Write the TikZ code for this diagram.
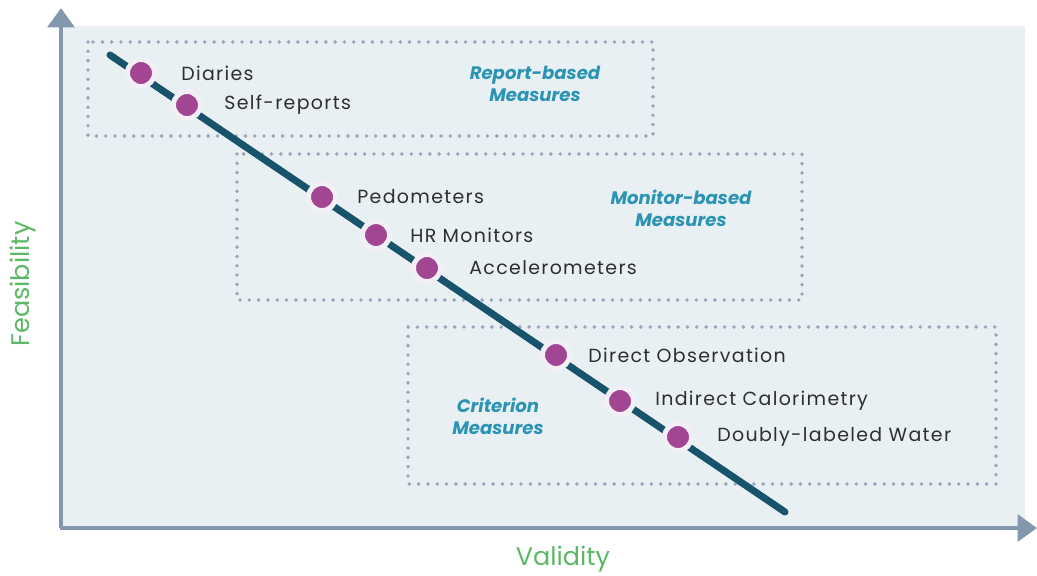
\documentclass[tikz,border=0pt]{standalone}
\usepackage{fontspec}
\setmainfont{Poppins}
\newfontfamily\wideface[LetterSpace=7]{Poppins}
\usetikzlibrary{arrows.meta}

\definecolor{panel}{HTML}{E9F0F4}
\definecolor{axisgray}{HTML}{8597AD}
\definecolor{boxdots}{HTML}{97A6BA}
\definecolor{trend}{HTML}{17546B}
\definecolor{plum}{HTML}{A24592}
\definecolor{halo}{HTML}{F2EFF7}
\definecolor{grouptxt}{HTML}{2B93B3}
\definecolor{axistxt}{HTML}{5DB866}
\definecolor{ink}{HTML}{2E2E2E}

\begin{document}
\begin{tikzpicture}[x=0.02cm, y=-0.02cm,
	groupbox/.style={draw=boxdots, line width=2.2pt, line cap=round, dash pattern=on 0pt off 5.3pt},
	measure/.style={anchor=west, inner sep=0pt, text=ink, font=\wideface\fontsize{10.8}{12}\selectfont},
	grouplabel/.style={align=center, text=grouptxt, font=\fontsize{10.3}{12.5}\selectfont\bfseries\itshape},
	dot/.style={circle, inner sep=0pt, minimum size=0.54cm, fill=plum, draw=halo, line width=2.8pt},
	axislabel/.style={text=axistxt, font=\fontsize{14.5}{17}\selectfont}]
	\useasboundingbox (0,0) rectangle (1037,575);

	% plot area
	\coordinate (O) at (61,528);
	\fill[panel] (62,26) rectangle (1025,528);

	% groups
	\draw[groupbox] (88,42) rectangle (653,136);
	\draw[groupbox] (237,154) rectangle (802,300);
	\draw[groupbox] (408,327) rectangle (996,484);

	\node[grouplabel] (report) at (535,84) {Report-based\\Measures};
	\node[grouplabel] (monitor) at (681,208) {Monitor-based\\Measures};
	\node[grouplabel] (criterion) at (498,416) {Criterion\\Measures};

	% trend line
	\coordinate (high) at (110,55);
	\coordinate (low) at (785,512);
	\draw[trend, line width=4pt, line cap=round] (high) -- (low);

	\foreach \name / \x / \y / \lx / \txt in {diaries/141/73/181/Diaries,
		selfrep/187/105/224/Self-reports,
		pedo/322/197/357/Pedometers,
		hrmon/376/235/410/HR Monitors,
		accel/427/268/469/Accelerometers,
		directobs/556/355/588/Direct Observation,
		calorim/620/401/655/Indirect Calorimetry,
		dlw/678/437/717/Doubly-labeled Water}{
		\node[dot] (\name) at (\x,\y) {};
		\node[measure] (\name-txt) at (\lx,\y) {\txt};}

	% axes
	\draw[axisgray, line width=2.8pt, -{Triangle[width=15pt,length=11pt]}] (O) -- (61,8);
	\draw[axisgray, line width=2.8pt, -{Triangle[width=15pt,length=11pt]}] (59.6,528) -- (1037,528);

	\node[axislabel, rotate=90] (feas) at (23,284) {Feasibility};
	\node[axislabel] (valid) at (563,559) {Validity};

\end{tikzpicture}
\end{document}
